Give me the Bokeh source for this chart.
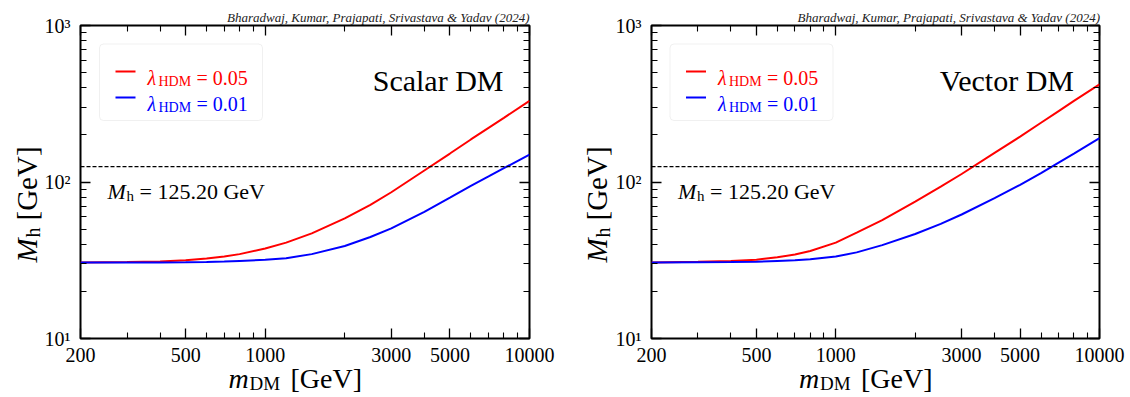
import math
from bokeh.plotting import figure
from bokeh.models import (LogAxis, FixedTicker, Label, BoxAnnotation, Span, GridBox, Range1d, Column)
from bokeh.embed import file_html
from bokeh.resources import INLINE

# ---------------- data ----------------
m_dm = [200, 300, 400, 500, 600, 700, 800, 1000, 1200, 1500, 2000, 2500, 3000, 4000, 5000,
        6000, 7000, 8000, 10000]
scalar_red = [30.6, 30.8, 31.1, 31.6, 32.4, 33.4, 34.6, 37.6, 41.0, 47.0, 58.5, 71.5, 86.0,
              118.5, 152.0, 187.0, 222.0, 257.0, 330.0]
scalar_blue = [30.6, 30.6, 30.6, 30.7, 30.8, 31.0, 31.3, 31.8, 32.6, 34.6, 39.0, 44.5, 50.5,
               64.5, 79.5, 94.5, 108.5, 122.5, 149.6]
vector_red = [30.6, 30.9, 31.3, 31.9, 33.0, 34.4, 36.2, 41.0, 47.5, 57.0, 75.0, 93.5, 112.5,
              153.5, 195.0, 239.0, 284.0, 330.0, 421.0]
vector_blue = [30.6, 30.7, 30.8, 30.9, 31.3, 31.6, 32.1, 33.4, 35.5, 39.5, 46.5, 54.0, 62.0,
               79.0, 96.0, 114.0, 133.0, 152.0, 191.0]

higgs_mass = 125.20
x_major = [200, 500, 1000, 3000, 5000, 10000]
x_major_labels = ["200", "500", "1000", "3000", "5000", "10000"]
x_minor = [300, 400, 600, 700, 800, 900, 2000, 4000, 6000, 7000, 8000, 9000]
y_major = [10, 100, 1000]
y_major_labels = ["10\u00b9", "10\u00b2", "10\u00b3"]
y_minor = [20, 30, 40, 50, 60, 70, 80, 90, 200, 300, 400, 500, 600, 700, 800, 900]
panel_titles = ["Scalar DM", "Vector DM"]
legend_labels = ["0.05", "0.01"]
legend_colors = ["#ff0000", "#0000ff"]
attribution = "Bharadwaj, Kumar, Prajapati, Srivastava & Yadav (2024)"

X0, X1 = 200, 10000
Y0, Y1 = 10, 1000
SERIF = "Liberation Serif"
W, H = 1130, 397


def style_axis(ax, xaxis, labels=True):
    ax.axis_line_color = None
    ax.major_tick_in = 10
    ax.major_tick_out = 0
    ax.minor_tick_in = 6
    ax.minor_tick_out = 0
    ax.major_tick_line_width = 1.3
    ax.minor_tick_line_width = 1.1
    if xaxis:
        ax.ticker = FixedTicker(ticks=x_major, minor_ticks=x_minor)
        ax.major_label_overrides = {v: s for v, s in zip(x_major, x_major_labels)}
    else:
        ax.ticker = FixedTicker(ticks=y_major, minor_ticks=y_minor)
        ax.major_label_overrides = {v: s for v, s in zip(y_major, y_major_labels)}
    ax.major_label_text_font = SERIF
    if labels:
        ax.major_label_text_font_size = "20px"
        ax.major_label_text_color = "black"
    else:
        ax.major_label_text_font_size = "6px"
        ax.major_label_text_color = None
        ax.major_label_text_alpha = 0
        ax.major_label_standoff = 0


def make_panel(yr, yb, border_left, border_right, width):
    p = figure(width=width, height=H, x_axis_type="log", y_axis_type="log",
               x_range=(X0, X1), y_range=(Y0, Y1), output_backend="svg",
               toolbar_location=None, min_border_left=border_left,
               min_border_right=border_right, min_border_top=25, min_border_bottom=59)
    p.grid.visible = False
    p.outline_line_color = "black"
    p.outline_line_width = 2
    style_axis(p.xaxis[0], True)
    p.xaxis[0].major_label_standoff = 9
    style_axis(p.yaxis[0], False)
    p.yaxis[0].major_label_standoff = 10
    top = LogAxis()
    style_axis(top, True, labels=False)
    p.add_layout(top, "above")
    right = LogAxis()
    style_axis(right, False, labels=False)
    p.add_layout(right, "right")

    p.line(m_dm, yr, line_color=legend_colors[0], line_width=2)
    p.line(m_dm, yb, line_color=legend_colors[1], line_width=2)
    p.add_layout(Span(location=higgs_mass, dimension="width", line_color="black",
                      line_width=1.3, line_dash="4 2"))
    return p


p1 = make_panel(scalar_red, scalar_blue, 80, 36, 565)
p2 = make_panel(vector_red, vector_blue, 86, 31, 565)

# transparent overlay in page-pixel units for all texts / legend boxes
ov = figure(width=W, height=H, x_range=Range1d(0, W), y_range=Range1d(H, 0),
            output_backend="svg", toolbar_location=None, min_border=0,
            x_axis_location=None, y_axis_location=None)
ov.grid.visible = False
ov.outline_line_color = None
ov.background_fill_color = None
ov.border_fill_color = None


def txt(x, y, text, size, color="black", italic=False, align="left", angle=0.0):
    ov.add_layout(Label(x=x, y=y, text=text, text_font=SERIF, text_font_size=f"{size}px",
                        text_color=color, text_font_style="italic" if italic else "normal",
                        text_align=align, text_baseline="alphabetic", angle=angle))


for k, dx in enumerate([0.0, 570.5]):
    # attribution
    txt(529 + dx, 17, attribution, 13, color="#222222", italic=True, align="right")
    # legend frame
    ov.add_layout(BoxAnnotation(left=99 + dx, right=262 + dx, top=43.5, bottom=120,
                                fill_color="white", fill_alpha=1, line_color="#cccccc",
                                line_width=1, border_radius=4))
    for i, (col, lab) in enumerate(zip(legend_colors, legend_labels)):
        yy = 71 + 26 * i
        ov.add_layout(BoxAnnotation(left=115 + dx, right=135 + dx, top=yy - 1, bottom=yy + 1,
                                    fill_color=col, fill_alpha=1, line_color=None))
        base = 77 + 26 * i
        txt(147 + dx, base, "\u03bb", 20, col, italic=True)
        txt(158 + dx, base + 4, "HDM", 14, col)
        txt(196 + dx, base, "= " + lab, 20, col)
    # panel title
    txt(503 + dx, 80, panel_titles[k], 30, align="right")
    # Higgs mass label
    txt(107 + dx, 191, "M", 22, italic=True)
    txt(126 + dx, 195, "h", 15)
    txt(139 + dx, 191, "= 125.20 GeV", 22)
    # x axis label
    txt(228 + dx, 378, "m", 28, italic=True)
    txt(249 + dx, 383, "DM", 19)
    txt(290 + dx, 378, "[GeV]", 28)
    # y axis label (rotated)
    yl = 26 + (dx if k == 0 else 570)
    txt(yl, 262, "M", 29, italic=True, angle=math.pi / 2)
    txt(yl + 6, 237, "h", 20, angle=math.pi / 2)
    txt(yl, 220, "[GeV]", 29, angle=math.pi / 2)

overlay = Column(children=[ov], width=W, height=H)
layout = GridBox(children=[(p1, 0, 0), (p2, 0, 1), (overlay, 0, 0, 1, 2)], spacing=0)
open("out.html", "w").write(file_html(layout, INLINE))
